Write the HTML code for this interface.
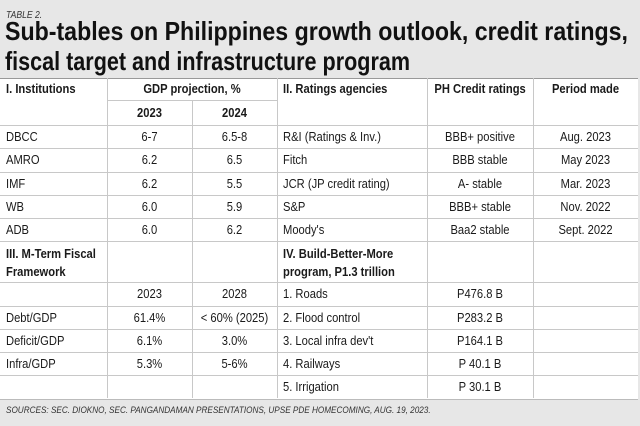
<!DOCTYPE html>
<html><head><meta charset="utf-8">
<style>
body{margin:0;width:640px;height:426px;background:#e7e7e7;font-family:"Liberation Sans Narrow","Liberation Sans",sans-serif;color:#1a1a1a;position:relative;overflow:hidden}
.t{position:absolute;white-space:nowrap;font-size:13px;line-height:16px;transform:scaleX(0.86);transform-origin:left center}
.c{text-align:center;transform-origin:center center}
.b{font-weight:bold}
#tbl{position:absolute;left:0;top:78px;width:638px;height:320px;background:#fff;border-top:1px solid #999;border-bottom:1px solid #bbb}
.h{position:absolute;height:1px;background:#c8c8c8}
.v{position:absolute;width:1px;background:#c8c8c8}
.tl{position:absolute;left:5px;white-space:nowrap;font-weight:bold;font-size:26px;line-height:29px;color:#111;transform-origin:left center}
</style></head><body>
<div class="t" style="left:6px;top:8px;font-size:10px;font-style:italic;color:#333">TABLE 2.</div>
<div class="tl" id="t1" style="top:17px">Sub-tables on Philippines growth outlook, credit ratings,</div>
<div class="tl" id="t2" style="top:47px">fiscal target and infrastructure program</div>
<div id="tbl"></div>
<div class="t" style="left:6px;top:403px;font-size:9.5px;font-style:italic;color:#333">SOURCES: SEC. DIOKNO, SEC. PANGANDAMAN PRESENTATIONS, UPSE PDE HOMECOMING, AUG. 19, 2023.</div>
<script>
const colX=[0,107,192,277,427,533,638];
const rowY=[78,100,125,148,172,195,218,241,282,306,329,352,375,398];
const cells=[
[0,0,1,"I. Institutions",1,0],[0,1,2,"GDP projection, %",1,1],[0,3,1,"II. Ratings agencies",1,0],[0,4,1,"PH Credit ratings",1,1],[0,5,1,"Period made",1,1],
[1,1,1,"2023",1,1],[1,2,1,"2024",1,1],
[2,0,1,"DBCC",0,0],[2,1,1,"6-7",0,1],[2,2,1,"6.5-8",0,1],[2,3,1,"R&I (Ratings & Inv.)",0,0],[2,4,1,"BBB+ positive",0,1],[2,5,1,"Aug. 2023",0,1],
[3,0,1,"AMRO",0,0],[3,1,1,"6.2",0,1],[3,2,1,"6.5",0,1],[3,3,1,"Fitch",0,0],[3,4,1,"BBB stable",0,1],[3,5,1,"May 2023",0,1],
[4,0,1,"IMF",0,0],[4,1,1,"6.2",0,1],[4,2,1,"5.5",0,1],[4,3,1,"JCR (JP credit rating)",0,0],[4,4,1,"A- stable",0,1],[4,5,1,"Mar. 2023",0,1],
[5,0,1,"WB",0,0],[5,1,1,"6.0",0,1],[5,2,1,"5.9",0,1],[5,3,1,"S&P",0,0],[5,4,1,"BBB+ stable",0,1],[5,5,1,"Nov. 2022",0,1],
[6,0,1,"ADB",0,0],[6,1,1,"6.0",0,1],[6,2,1,"6.2",0,1],[6,3,1,"Moody's",0,0],[6,4,1,"Baa2 stable",0,1],[6,5,1,"Sept. 2022",0,1],
[8,1,1,"2023",0,1],[8,2,1,"2028",0,1],[8,3,1,"1. Roads",0,0],[8,4,1,"P476.8 B",0,1],
[9,0,1,"Debt/GDP",0,0],[9,1,1,"61.4%",0,1],[9,2,1,"< 60% (2025)",0,1],[9,3,1,"2. Flood control",0,0],[9,4,1,"P283.2 B",0,1],
[10,0,1,"Deficit/GDP",0,0],[10,1,1,"6.1%",0,1],[10,2,1,"3.0%",0,1],[10,3,1,"3. Local infra dev't",0,0],[10,4,1,"P164.1 B",0,1],
[11,0,1,"Infra/GDP",0,0],[11,1,1,"5.3%",0,1],[11,2,1,"5-6%",0,1],[11,3,1,"4. Railways",0,0],[11,4,1,"P 40.1 B",0,1],
[12,3,1,"5. Irrigation",0,0],[12,4,1,"P 30.1 B",0,1]
];
const body=document.body;
function line(cls,l,t,w,h,name){const d=document.createElement('div');d.className=cls;d.style.left=l+'px';d.style.top=t+'px';d.style.width=w+'px';d.style.height=h+'px';


body.appendChild(d);}
for(let i=2;i<rowY.length-1;i++){ line('h',0,rowY[i],638,1,'row-rule'); }
line('h',107,100,170,1,'row-rule');
for(let j=1;j<colX.length-1;j++){ const top=(j===2)?100:78; line('v',colX[j],top,1,398-top,'col-rule'); }
function txt(x,y,w,s,bold,center,name){const d=document.createElement('div');d.className='t'+(bold?' b':'')+(center?' c':'');d.style.left=x+'px';d.style.top=y+'px';if(w)d.style.width=w+'px';d.textContent=s;


body.appendChild(d);return d;}
cells.forEach(c=>{const [r,ci,span,s,b,ctr]=c;const x0=colX[ci],x1=colX[ci+span];const y=rowY[r]+(rowY[r+1]-rowY[r]-16)/2;
txt(ctr?x0:x0+6,y,ctr?x1-x0:0,s,b,ctr,'table-cell');});
const s3=txt(6,245,0,'',1,0,'section-iii-header');s3.innerHTML='III. M-Term Fiscal<br>Framework';s3.style.lineHeight='18px';
const s4=txt(283,245,0,'',1,0,'section-iv-header');s4.innerHTML='IV. Build-Better-More<br>program, P1.3 trillion';s4.style.lineHeight='18px';
function fit(id,w){const e=document.getElementById(id);const nw=e.getBoundingClientRect().width;e.style.transform='scaleX('+(w/nw)+')';}
fit('t1',623);fit('t2',405);
</script>
</body></html>
